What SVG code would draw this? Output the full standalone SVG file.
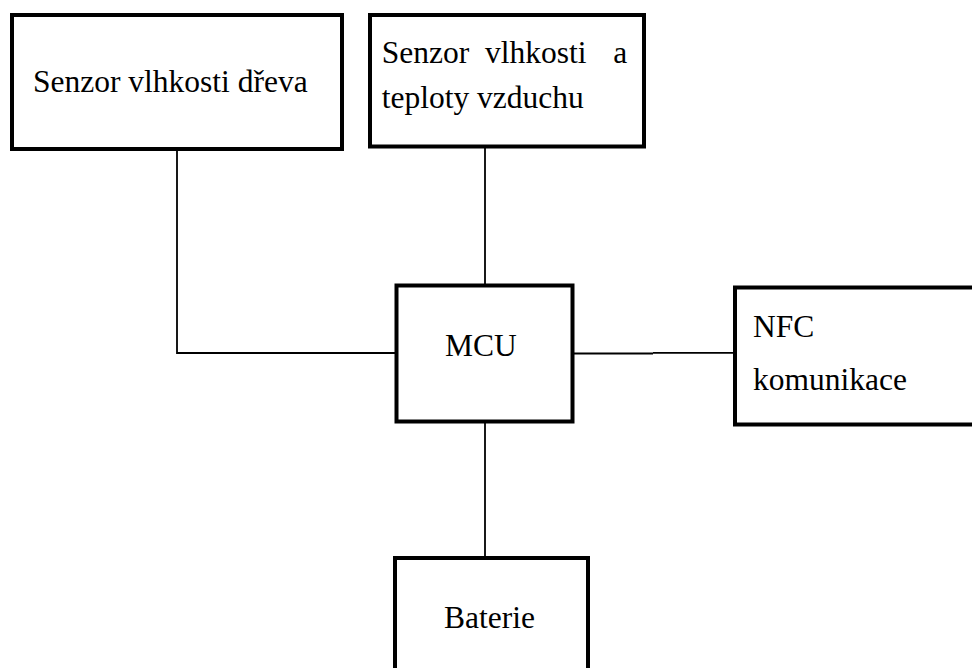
<svg xmlns="http://www.w3.org/2000/svg" width="972" height="668" viewBox="0 0 972 668">
  <style>
    .box { fill: #ffffff; stroke: #000000; stroke-width: 4; }
    .wire { fill: none; stroke: #000000; stroke-width: 1.8; }
    .label { font-family: "Liberation Serif", "Times New Roman", serif; font-size: 31.5px; fill: #000000; }
  </style>
  <rect width="972" height="668" fill="#ffffff"/>

  <!-- wiring between the blocks -->
  <g id="connectors">
    <polyline class="wire" points="177,149 177,353 396.5,353"/>
    <line class="wire" x1="485" y1="146.5" x2="485" y2="285.5"/>
    <line class="wire" x1="572.5" y1="353.5" x2="653" y2="353.5"/>
    <line class="wire" x1="653" y1="352.8" x2="735" y2="352.8"/>
    <line class="wire" x1="485" y1="421.5" x2="485" y2="558"/>
  </g>

  <g id="wood-sensor">
    <rect class="box" x="12" y="15" width="330" height="134"/>
    <text class="label" x="33" y="92">Senzor vlhkosti dřeva</text>
  </g>

  <g id="air-sensor">
    <rect class="box" x="370" y="15" width="274" height="131.5"/>
    <text class="label" y="63.3"><tspan x="381.7">Senzor</tspan><tspan x="485">vlhkosti</tspan><tspan x="613.3">a</tspan></text>
    <text class="label" x="381.7" y="107.5">teploty vzduchu</text>
  </g>

  <g id="mcu">
    <rect class="box" x="396.5" y="285.5" width="176" height="136"/>
    <text class="label" x="445" y="356">MCU</text>
  </g>

  <g id="nfc">
    <rect class="box" x="735" y="287.5" width="260" height="137"/>
    <text class="label" x="753" y="337">NFC</text>
    <text class="label" x="753" y="390">komunikace</text>
  </g>

  <g id="battery">
    <rect class="box" x="395" y="558" width="193" height="130"/>
    <text class="label" x="444" y="628">Baterie</text>
  </g>
</svg>
